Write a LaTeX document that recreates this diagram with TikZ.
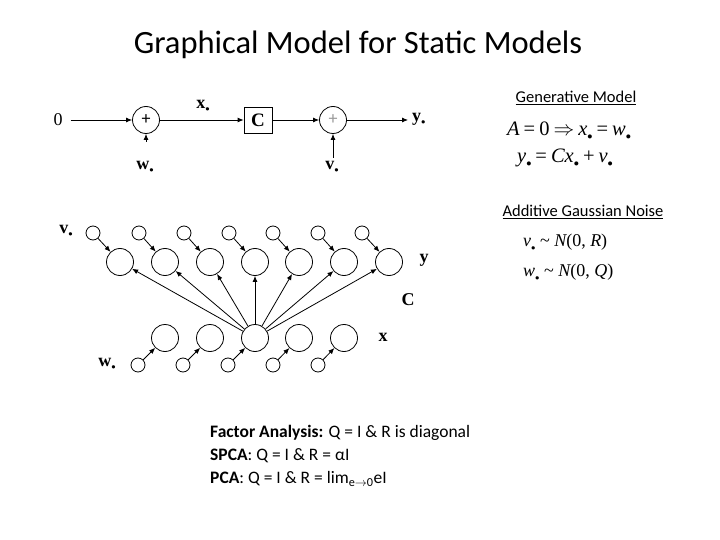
\documentclass[tikz,border=0pt]{standalone}
\usepackage{fontspec}
\setmainfont{Carlito}
\newfontfamily\tms{Liberation Serif}
\usetikzlibrary{arrows.meta}
\newcommand\sdot{\raisebox{-0.45ex}{\scalebox{0.5}{$\bullet$}}}
\newcommand\gap{\hspace{4pt}}
\tikzset{
  arr/.style={-{Latex[length=6pt,width=5pt]},line width=0.8pt},
  big/.style={circle,draw,line width=0.8pt,minimum size=27pt,inner sep=0pt},
  small/.style={circle,draw,line width=0.8pt,minimum size=14pt,inner sep=0pt},
  lbl/.style={font=\tms\bfseries\fontsize{18}{18}\selectfont,inner sep=0pt},
  eq/.style={font=\tms\itshape\fontsize{20.5}{20.5}\selectfont,inner sep=0pt,anchor=west},
  eqs/.style={font=\tms\itshape\fontsize{18}{18}\selectfont,inner sep=0pt,anchor=west},
  head/.style={font=\fontsize{16.5}{16.5}\selectfont,inner sep=0pt},
  body/.style={font=\fontsize{17.5}{23}\selectfont,inner sep=0pt,anchor=north west,align=left}
}
\begin{document}
\begin{tikzpicture}[x=1pt,y=-1pt]
\useasboundingbox (0,0) rectangle (720,540);
% title
\node[font=\fontsize{32.5}{32.5}\selectfont] (title) at (358,45) {Graphical Model for Static Models};
% top block diagram
\node[font=\tms\fontsize{18}{18}\selectfont,inner sep=0pt] (zero) at (58,120) {0};
\node[big] (p1) at (146,120) {\fontsize{18}{18}\selectfont +};
\node[draw,line width=0.8pt,minimum width=28pt,minimum height=26pt,inner sep=0pt,font=\tms\bfseries\fontsize{19}{19}\selectfont] (C) at (258,120) {C};
\node[big] (p2) at (333,120) {\color{black!40}\fontsize{18}{18}\selectfont +};
\coordinate (yout) at (408,120);
\node[lbl,anchor=west] (ylab) at (412,119) {y\sdot};
\node[lbl] (xlab) at (203,106) {x\sdot};
\node[lbl] (wlab) at (145,167) {w\sdot};
\node[lbl] (vlab) at (332,167) {v\sdot};
\coordinate (wtail) at (146,142);
\coordinate (vtail) at (333,158);
\draw[arr] (zero.east) ++(8,0) -- (p1.west);
\draw[arr] (p1) -- (C);
\draw[arr] (C) -- (p2);
\draw[arr] (p2) -- (yout);
\draw[arr] (wtail) -- (p1.south);
\draw[arr] (vtail) -- (p2.south);
% right side text
\node[head] (gm) at (576,98) {\underline{Generative Model}};
\node[eq] (eq1) at (507,131) {A\gap{\upshape =}\gap{\upshape 0}\gap$\Rightarrow$\gap x\sdot\gap{\upshape =}\gap w\sdot};
\node[eq] (eq2) at (517,158) {y\sdot\gap{\upshape =}\gap Cx\sdot\gap{\upshape +}\gap v\sdot};
\node[head] (agn) at (583,212) {\underline{Additive Gaussian Noise}};
\node[eqs] (n1) at (523,242) {v\sdot\ {\upshape\textasciitilde}\ N{\upshape (0,} R{\upshape )}};
\node[eqs] (n2) at (523,272) {w\sdot\ {\upshape\textasciitilde}\ N{\upshape (0,} Q{\upshape )}};
% bottom network
\foreach \i/\xv/\xy in {1/93/120,2/139/165,3/184/210,4/229/255,5/273/299,6/318/344,7/362/389}{
  \node[small] (v\i) at (\xv,233) {};
  \node[big] (y\i) at (\xy,262) {};
  \draw[arr] (v\i) -- (y\i);
}
\foreach \i/\xw/\xx in {1/138/165,2/183/210,3/228/255,4/273/299,5/318/344}{
  \node[small] (w\i) at (\xw,365) {};
  \node[big] (x\i) at (\xx,338) {};
  \draw[arr] (w\i) -- (x\i);
}
\foreach \i in {1,...,7}{ \draw[arr] (x3) -- (y\i); }
\node[lbl] (vl) at (66,231) {v\sdot};
\node[lbl] (yl) at (424,260) {y};
\node[lbl] (cl) at (408,300) {C};
\node[lbl] (xl) at (383,337) {x};
\node[lbl] (wl) at (107,364) {w\sdot};
% bottom text
\node[body] (fa) at (210,425) {\textbf{Factor Analysis:} Q = I \& R is diagonal\\
\textbf{SPCA}: Q = I \& R = αI\\
\textbf{PCA}: Q = I \& R = lim\textsubscript{e$\rightarrow$0}eI};
\end{tikzpicture}
\end{document}
